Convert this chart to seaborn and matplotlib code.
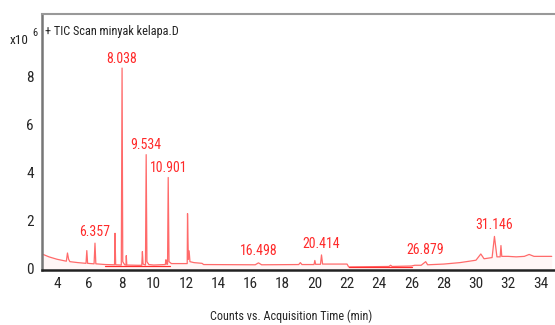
import matplotlib
matplotlib.use("Agg")
import matplotlib.pyplot as plt
import seaborn as sns
import pandas as pd
from matplotlib import font_manager

# ---- data (retention time in min, counts x10^6) ----
times = [3.07, 3.5, 4.0, 4.5, 4.58, 4.65, 4.72, 4.8, 5.3, 5.8, 5.85, 5.9, 6.3, 6.357, 6.41,
         7.0, 7.57, 7.6, 7.64, 7.99, 8.038, 8.08, 8.2, 8.28, 8.3, 8.33, 9.0, 9.26, 9.3, 9.34,
         9.49, 9.534, 9.58, 9.7, 10.0, 10.72, 10.76, 10.8, 10.86, 10.901, 10.95, 11.1, 12.0,
         12.08, 12.1, 12.15, 12.2, 12.25, 12.5, 13.0, 13.1, 16.3, 16.5, 16.7, 19.0, 19.1, 19.2,
         19.95, 20.0, 20.05, 20.35, 20.414, 20.48, 22.0, 22.1, 24.6, 24.7, 24.8, 26.0, 26.2,
         26.6, 26.879, 27.0, 28.0, 29.0, 30.0, 30.3, 30.5, 31.0, 31.146, 31.3, 31.5, 31.55,
         31.6, 32.0, 32.5, 33.0, 33.3, 33.6, 34.0, 34.7]
counts = [0.62, 0.50, 0.40, 0.33, 0.32, 0.66, 0.40, 0.30, 0.26, 0.23, 0.76, 0.23, 0.21, 1.07, 0.21,
          0.18, 0.17, 1.48, 0.17, 0.16, 8.35, 0.30, 0.17, 0.16, 0.55, 0.16, 0.15, 0.15, 0.72, 0.20,
          0.16, 4.75, 0.30, 0.18, 0.16, 0.18, 0.38, 0.20, 0.19, 3.80, 0.30, 0.22, 0.22,
          0.22, 2.30, 0.40, 0.75, 0.30, 0.26, 0.23, 0.18, 0.17, 0.25, 0.17, 0.18, 0.26, 0.18,
          0.18, 0.35, 0.19, 0.19, 0.58, 0.20, 0.20, 0.08, 0.10, 0.15, 0.10, 0.12, 0.15,
          0.15, 0.30, 0.17, 0.20, 0.26, 0.36, 0.62, 0.42, 0.47, 1.35, 0.50, 0.50, 0.97,
          0.52, 0.52, 0.50, 0.52, 0.60, 0.52, 0.52, 0.52]

# integration baselines (red segments)
base1_t = [7.0, 11.0]
base1_v = [0.13, 0.13]
base2_t = [22.1, 26.0]
base2_v = [0.08, 0.08]

peak_labels = ["6.357", "8.038", "9.534", "10.901", "16.498", "20.414", "26.879", "31.146"]
peak_label_x = [6.357, 8.038, 9.534, 10.901, 16.498, 20.414, 26.879, 31.146]
peak_label_y = [1.25, 8.45, 4.85, 3.90, 0.45, 0.75, 0.50, 1.55]

xticks = [4, 6, 8, 10, 12, 14, 16, 18, 20, 22, 24, 26, 28, 30, 32, 34]
yticks = [0, 2, 4, 6, 8]

sns.set_style("white")
names = {f.name for f in font_manager.fontManager.ttflist}
fam = [n for n in ["Liberation Sans Narrow", "Roboto Condensed", "Liberation Sans"] if n in names]
plt.rcParams["font.family"] = fam + ["DejaVu Sans"]

fig = plt.figure(figsize=(5.55, 3.25), dpi=100)
ax = fig.add_axes([0.0757, 0.169, 0.93, 0.788])

df = pd.DataFrame({"t": times, "c": counts})
sns.lineplot(data=df, x="t", y="c", ax=ax, color="#ff6a6a", linewidth=0.9,
             estimator=None, sort=False)
ax.fill_between(times, counts, 0, color="#ff6a6a", alpha=0.06, linewidth=0)

for bt, bv in ((base1_t, base1_v), (base2_t, base2_v)):
    seg = pd.DataFrame({"t": bt, "c": bv})
    sns.lineplot(data=seg, x="t", y="c", ax=ax, color="#ff3030", linewidth=0.9,
                 estimator=None, sort=False)

for lab, lx, ly in zip(peak_labels, peak_label_x, peak_label_y):
    ax.text(lx, ly, lab, color="#ff2a2a", fontsize=10, ha="center", va="bottom")

ax.set_xlim(3.07, 34.7 + 0.4)
ax.set_ylim(-0.05, 10.6)
ax.set_xticks(xticks)
ax.set_yticks(yticks)
ax.set_xlabel("Counts vs. Acquisition Time (min)", fontsize=8.7, labelpad=5)
ax.xaxis.set_label_coords(0.482, -0.155)
ax.set_ylabel("")
ax.tick_params(axis="both", labelsize=11, length=3, width=1, color="#555555",
               direction="out", pad=2)
ax.tick_params(axis="y", pad=3)

for side in ["left", "bottom"]:
    ax.spines[side].set_visible(True)
    ax.spines[side].set_linewidth(1.8)
ax.spines["left"].set_color("#777777")
ax.spines["bottom"].set_color("#222222")
ax.spines["top"].set_color("#999999")
ax.spines["top"].set_linewidth(1.5)
ax.spines["right"].set_visible(False)

ax.text(0.006, 0.93, "+ TIC Scan minyak kelapa.D", transform=ax.transAxes,
        fontsize=8.8, color="#222222", ha="left", va="center")
fig.text(0.018, 0.875, "x10", fontsize=9.5, color="#222222", ha="left", va="center")
fig.text(0.058, 0.9, "6", fontsize=7.5, color="#222222", ha="left", va="center")

fig.savefig("out.png", dpi=100)
